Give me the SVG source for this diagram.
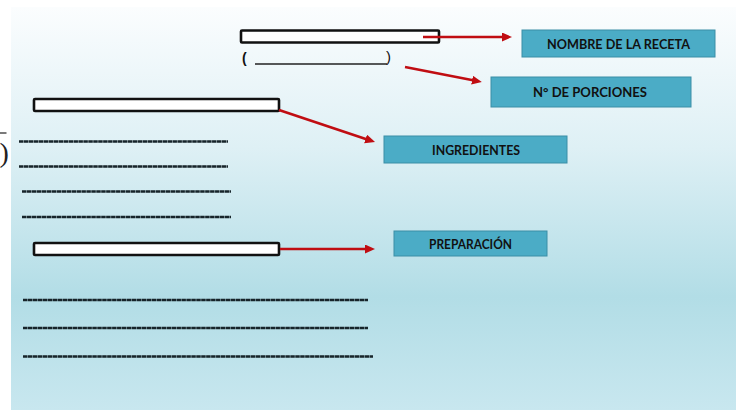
<svg xmlns="http://www.w3.org/2000/svg" width="741" height="410" viewBox="0 0 741 410">
<defs>
<linearGradient id="bg" x1="0" y1="0" x2="0" y2="1">
<stop offset="0" stop-color="#fbfdfe"/>
<stop offset="0.35" stop-color="#def0f5"/>
<stop offset="0.72" stop-color="#b2dde6"/>
<stop offset="1" stop-color="#c8e7ef"/>
</linearGradient>
<marker id="ah" markerUnits="userSpaceOnUse" markerWidth="11" markerHeight="10" refX="1" refY="4.5" orient="auto">
<path d="M0,0 L10,4.5 L0,9 z" fill="#c00d12"/>
</marker>
<style>
.bar{fill:#ffffff;stroke:#111;stroke-width:2.6}
.box{fill:#4bacc6;stroke:#3b8ea6;stroke-width:1}
.lbl{font-family:Lato,"Liberation Sans",sans-serif;font-weight:700;font-size:12.5px;fill:#111;text-anchor:middle;dominant-baseline:central}
.dash{stroke:#17242a;stroke-width:2.4;stroke-dasharray:4.5 0.45}
.con{stroke:#c00d12;stroke-width:2.6;fill:none;marker-end:url(#ah)}
</style>
</defs>
<rect x="0" y="0" width="741" height="410" fill="#ffffff"/>
<rect x="11" y="7" width="725" height="403" fill="url(#bg)"/>
<line x1="0" y1="133" x2="6.5" y2="133" stroke="#222" stroke-width="1.2"/>
<text x="-0.5" y="162" font-family="'Liberation Serif',serif" font-size="28" fill="#222">)</text>
<g id="bar-nombre"><rect class="bar" x="241" y="30.5" width="198" height="12" rx="1"/></g>
<g id="porciones-field">
<text x="242" y="63" font-family="'Liberation Sans',sans-serif" font-weight="700" font-size="14" fill="#111">(</text>
<line x1="255" y1="64" x2="387" y2="64" stroke="#222" stroke-width="1.5"/>
<text x="386" y="62" font-family="'Liberation Sans',sans-serif" font-weight="400" font-size="15" fill="#111">)</text>
</g>
<g id="bar-ingredientes"><rect class="bar" x="34" y="99" width="245" height="12" rx="1"/></g>
<g id="ingredient-lines">
<line class="dash" x1="19" y1="141.5" x2="228" y2="141.5"/>
<line class="dash" x1="19" y1="166.5" x2="228" y2="166.5"/>
<line class="dash" x1="22" y1="191.5" x2="231" y2="191.5"/>
<line class="dash" x1="22" y1="217" x2="231" y2="217"/>
</g>
<g id="bar-preparacion"><rect class="bar" x="34" y="243" width="245" height="12" rx="1"/></g>
<g id="preparation-lines">
<line class="dash" x1="23" y1="300" x2="368" y2="300"/>
<line class="dash" x1="23" y1="328" x2="368" y2="328"/>
<line class="dash" x1="23" y1="356.5" x2="373" y2="356.5"/>
</g>
<g id="nombre">
<rect class="box" x="522" y="30" width="193" height="27"/>
<text class="lbl" x="618.5" y="44" textLength="143" lengthAdjust="spacingAndGlyphs">NOMBRE  DE LA RECETA</text>
</g>
<g id="porciones">
<rect class="box" x="491" y="77" width="200" height="30"/>
<text class="lbl" x="590" y="92" textLength="114" lengthAdjust="spacingAndGlyphs">N°  DE  PORCIONES</text>
</g>
<g id="ingredientes">
<rect class="box" x="384" y="136" width="183" height="27"/>
<text class="lbl" x="476" y="150" textLength="88" lengthAdjust="spacingAndGlyphs">INGREDIENTES</text>
</g>
<g id="preparacion">
<rect class="box" x="394" y="231" width="153" height="25"/>
<text class="lbl" x="470.5" y="244" textLength="83" lengthAdjust="spacingAndGlyphs">PREPARACIÓN</text>
</g>
<g id="connectors">
<line class="con" x1="423" y1="37" x2="503" y2="37"/>
<line class="con" x1="405" y1="67" x2="473" y2="80.3"/>
<line class="con" x1="279" y1="110" x2="366.5" y2="139.2"/>
<line class="con" x1="280" y1="249" x2="366" y2="249"/>
</g>
</svg>
